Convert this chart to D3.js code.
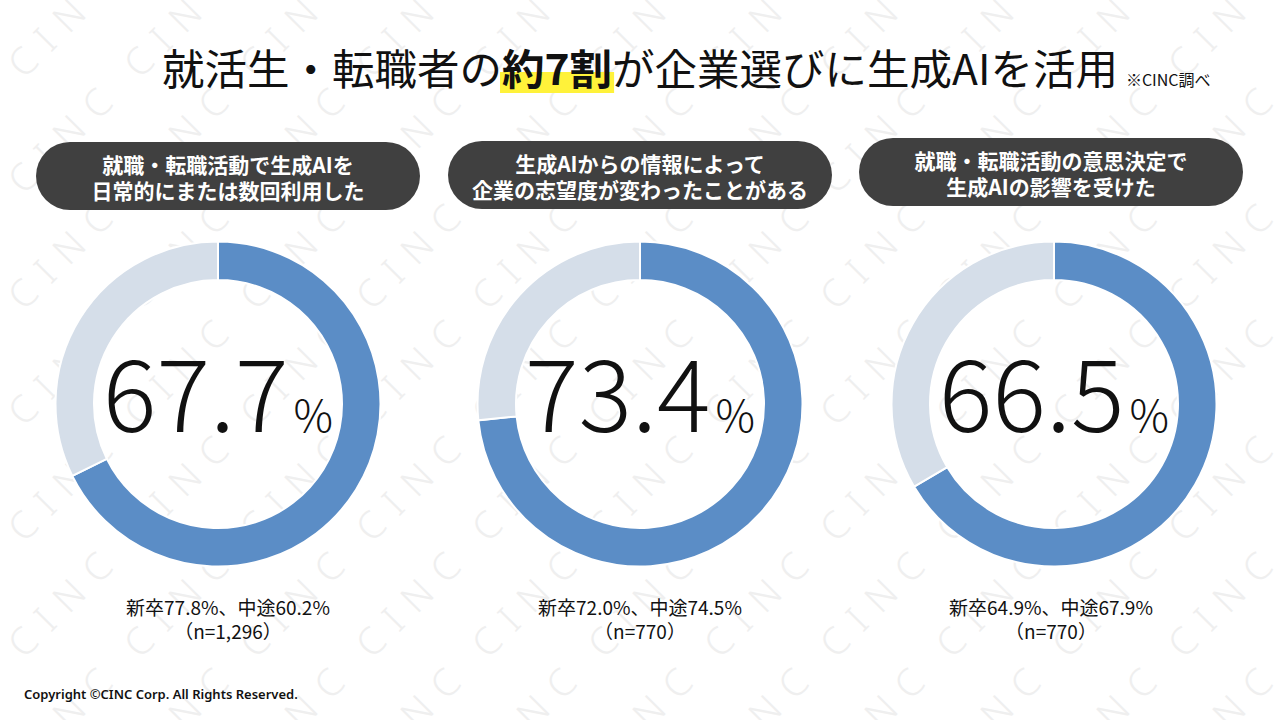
<!DOCTYPE html>
<html><head><meta charset="utf-8">
<script src="https://cdn.jsdelivr.net/npm/d3@7"></script>
<style>
html,body{margin:0;padding:0;background:#fff;}
svg{display:block;}
</style></head>
<body>
<svg id="chart" width="1280" height="720"></svg>
<script>
// ---- data ----
const titlePre = "就活生・転職者の";
const titleBold = "約7割";
const titlePost = "が企業選びに生成AIを活用";
const titleNote = "※CINC調べ";
const headerLine1 = ["就職・転職活動で生成AIを", "生成AIからの情報によって", "就職・転職活動の意思決定で"];
const headerLine2 = ["日常的にまたは数回利用した", "企業の志望度が変わったことがある", "生成AIの影響を受けた"];
const values = [67.7, 73.4, 66.5];
const newGrad = [77.8, 72.0, 64.9];
const midCareer = [60.2, 74.5, 67.9];
const sampleN = ["1,296", "770", "770"];
const copyright = "Copyright ©CINC Corp. All Rights Reserved.";
const watermark = "CINC";

const svg = d3.select("#chart");
const W = 1280, H = 720;
const JP = "'Noto Sans CJK JP','Noto Sans',sans-serif";

// watermark
const wm = svg.append("g").attr("fill", "#efefef");
for (let i = -1; i < 12; i++) {
  for (let j = 0; j < 7; j++) {
    const cx = 65 + 116 * i, cy = 20 + 116 * j;
    wm.append("text")
      .attr("transform", `translate(${cx},${cy}) rotate(-45)`)
      .attr("text-anchor", "middle").attr("dy", "0.35em")
      .attr("font-family", "'Noto Sans',sans-serif").attr("font-weight", 300)
      .attr("font-size", 38).attr("letter-spacing", 14)
      .text(watermark);
  }
}

// highlight layer (under title)
const hl = svg.append("g");

// title
const title = svg.append("text").attr("x", 162).attr("y", 85)
  .attr("font-family", JP).attr("font-size", 42.5).attr("fill", "#111");
title.append("tspan").text(titlePre);
title.append("tspan").attr("font-weight", 700).text(titleBold);
title.append("tspan").text(titlePost);
const tBox = title.node().getBBox();
svg.append("text").attr("x", tBox.x + tBox.width + 8).attr("y", 86).attr("font-family", JP)
  .attr("font-size", 16).attr("fill", "#111").text(titleNote);
const tNode = title.node();
const s = tNode.getStartPositionOfChar(titlePre.length);
const e = tNode.getEndPositionOfChar(titlePre.length + titleBold.length - 1);
hl.append("rect").attr("x", s.x - 2).attr("y", 72).attr("width", e.x - s.x + 4).attr("height", 21)
  .attr("fill", "#fff23a");

// layout for panels
const donutCX = [218, 640, 1054];
const pillCX = [228, 640, 1051];
const pillY = [142, 141, 138];
const pillW = 384, pillH = 68;
const cy = 404, rOuter = 162.5, rInner = 124;

const pie = d3.pie().sort(null).value(d => d);
const arc = d3.arc().innerRadius(rInner).outerRadius(rOuter);
const colors = ["#5b8dc6", "#d5dee9"];

values.forEach((v, i) => {
  const g = svg.append("g");
  // pill
  g.append("rect").attr("x", pillCX[i] - pillW / 2).attr("y", pillY[i])
    .attr("width", pillW).attr("height", pillH).attr("rx", pillH / 2)
    .attr("fill", "#404040");
  g.append("text").attr("x", pillCX[i]).attr("y", pillY[i] + 31)
    .attr("text-anchor", "middle").attr("font-family", JP).attr("font-weight", 700)
    .attr("font-size", 21).attr("fill", "#fff").text(headerLine1[i]);
  g.append("text").attr("x", pillCX[i]).attr("y", pillY[i] + 57)
    .attr("text-anchor", "middle").attr("font-family", JP).attr("font-weight", 700)
    .attr("font-size", 21).attr("fill", "#fff").text(headerLine2[i]);

  // donut
  const dg = g.append("g").attr("transform", `translate(${donutCX[i]},${cy})`);
  dg.selectAll("path").data(pie([v, 100 - v])).join("path")
    .attr("d", arc).attr("fill", (d, k) => colors[k])
    .attr("stroke", "#fff").attr("stroke-width", 2);

  // big number
  const t = g.append("text").attr("x", donutCX[i]).attr("y", 432)
    .attr("text-anchor", "middle").attr("font-family", JP).attr("fill", "#111");
  t.append("tspan").attr("font-size", 100).attr("font-weight", 200).text(v.toFixed(1));
  t.append("tspan").attr("font-size", 44).attr("font-weight", 300).attr("dx", 5).text("%");

  // sub text
  g.append("text").attr("x", pillCX[i]).attr("y", 615).attr("text-anchor", "middle")
    .attr("font-family", JP).attr("font-size", 19).attr("fill", "#111")
    .text(`新卒${newGrad[i].toFixed(1)}%、中途${midCareer[i].toFixed(1)}%`);
  g.append("text").attr("x", pillCX[i]).attr("y", 639).attr("text-anchor", "middle")
    .attr("font-family", JP).attr("font-size", 19).attr("fill", "#111")
    .text(`（n=${sampleN[i]}）`);
});

svg.append("text").attr("x", 24).attr("y", 699).attr("font-family", "'Noto Sans',sans-serif")
  .attr("font-weight", 600).attr("font-size", 13).attr("fill", "#111").text(copyright);
</script>
</body></html>
